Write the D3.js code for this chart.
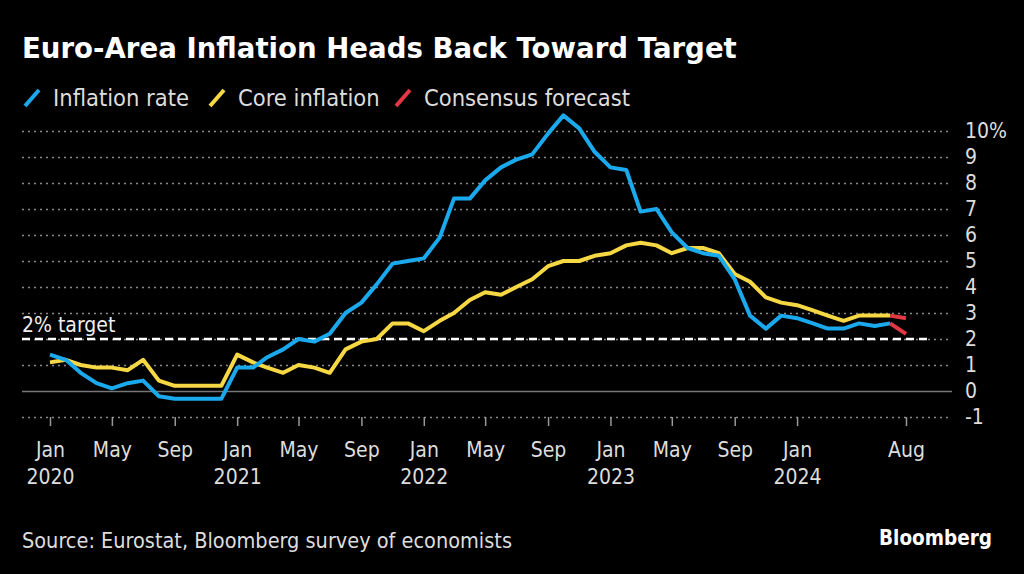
<!DOCTYPE html>
<html><head><meta charset="utf-8">
<script src="https://cdn.jsdelivr.net/npm/d3@7"></script>
<style>
html,body{margin:0;padding:0;background:#000;}
svg{display:block;}
text{font-family:"DejaVu Sans Condensed","DejaVu Sans",sans-serif;}
</style></head>
<body><svg id="c" width="1024" height="574"></svg>
<script>
const months = d3.timeMonths(new Date(2020,0,1), new Date(2024,7,1)); // Jan 2020 - Jul 2024
const inflation = [1.4,1.2,0.7,0.3,0.1,0.3,0.4,-0.2,-0.3,-0.3,-0.3,-0.3,
  0.9,0.9,1.3,1.6,2.0,1.9,2.2,3.0,3.4,4.1,4.9,5.0,
  5.1,5.9,7.4,7.4,8.1,8.6,8.9,9.1,9.9,10.6,10.1,9.2,
  8.6,8.5,6.9,7.0,6.1,5.5,5.3,5.2,4.3,2.9,2.4,2.9,
  2.8,2.6,2.4,2.4,2.6,2.5,2.6];
const core = [1.1,1.2,1.0,0.9,0.9,0.8,1.2,0.4,0.2,0.2,0.2,0.2,
  1.4,1.1,0.9,0.7,1.0,0.9,0.7,1.6,1.9,2.0,2.6,2.6,
  2.3,2.7,3.0,3.5,3.8,3.7,4.0,4.3,4.8,5.0,5.0,5.2,
  5.3,5.6,5.7,5.6,5.3,5.5,5.5,5.3,4.5,4.2,3.6,3.4,
  3.3,3.1,2.9,2.7,2.9,2.9,2.9];
const forecastDates = [new Date(2024,6,1), new Date(2024,7,1)];
const forecastInflation = [2.6, 2.2];
const forecastCore = [2.9, 2.8];
const yTicks = [-1,0,1,2,3,4,5,6,7,8,9,10];
const xTickDates = [new Date(2020,0,1),new Date(2020,4,1),new Date(2020,8,1),
  new Date(2021,0,1),new Date(2021,4,1),new Date(2021,8,1),
  new Date(2022,0,1),new Date(2022,4,1),new Date(2022,8,1),
  new Date(2023,0,1),new Date(2023,4,1),new Date(2023,8,1),
  new Date(2024,0,1),new Date(2024,7,1)];
const target = 2;

const BLUE="#1ba9ee", YELLOW="#f6d844", RED="#e23845";
const FONT="'DejaVu Sans Condensed','DejaVu Sans',sans-serif";
const svg = d3.select("#c");
svg.append("rect").attr("width",1024).attr("height",574).attr("fill","#000");

const x = d3.scaleTime().domain([new Date(2020,0,1), new Date(2024,7,1)]).range([50,906]);
const y = d3.scaleLinear().domain([-1,10]).range([417,131]);

// title
svg.append("text").attr("x",22).attr("y",58).attr("fill","#fff")
  .style("font-size","27.6px").style("font-weight","bold")
  .style("font-family","'DejaVu Sans',sans-serif")
  .text("Euro-Area Inflation Heads Back Toward Target");

// legend
const legend = [{l:"Inflation rate",c:BLUE,x:22},{l:"Core inflation",c:YELLOW,x:207},{l:"Consensus forecast",c:RED,x:393}];
legend.forEach(d=>{
  svg.append("line").attr("x1",d.x+3).attr("y1",106).attr("x2",d.x+17).attr("y2",90)
    .attr("stroke",d.c).attr("stroke-width",4);
  svg.append("text").attr("x",d.x+31).attr("y",106).attr("fill","#ddd")
    .style("font-size","23.5px").text(d.l);
});

// grid / y axis
const gy = svg.append("g").attr("transform","translate(22,0)")
  .call(d3.axisRight(y).tickValues(yTicks).tickSize(930).tickPadding(13)
    .tickFormat(d=> d===10? "10%" : String(d)));
gy.select(".domain").remove();
gy.selectAll(".tick line").attr("stroke","#8a8a8a").attr("stroke-width",1.5)
  .attr("stroke-dasharray",d=> d===0? null : "2,4");
gy.selectAll(".tick").filter(d=>d===0).select("line").attr("stroke","#777").attr("stroke-width",1.5);
gy.selectAll(".tick text").attr("fill","#ddd").style("font-size","21px")
  .style("font-family",FONT);

// target line
svg.append("line").attr("x1",22).attr("x2",930).attr("y1",y(target)).attr("y2",y(target))
  .attr("stroke","#fff").attr("stroke-width",2.5).attr("stroke-dasharray","8,5");
svg.append("text").attr("x",22).attr("y",y(target)-7).attr("fill","#eee")
  .style("font-size","21px").text("2% target");

// x axis
const gx = svg.append("g").attr("transform","translate(0,417)")
  .call(d3.axisBottom(x).tickValues(xTickDates).tickSize(9).tickPadding(16)
    .tickFormat(d3.timeFormat("%b")));
gx.select(".domain").remove();
gx.selectAll(".tick line").attr("stroke","#999").attr("stroke-width",1.5);
gx.selectAll(".tick text").attr("fill","#ddd").style("font-size","21px")
  .style("font-family",FONT);
gx.selectAll(".tick").filter(d=>d.getMonth()===0).append("text")
  .attr("y",67).attr("fill","#ddd").attr("text-anchor","middle")
  .style("font-size","21px").style("font-family",FONT)
  .text(d=>d.getFullYear());

// lines
const line = d3.line().x(d=>x(d[0])).y(d=>y(d[1])).curve(d3.curveLinear);
svg.append("path").datum(months.map((m,i)=>[m,core[i]])).attr("d",line)
  .attr("fill","none").attr("stroke",YELLOW).attr("stroke-width",4).attr("stroke-linejoin","round");
svg.append("path").datum(months.map((m,i)=>[m,inflation[i]])).attr("d",line)
  .attr("fill","none").attr("stroke",BLUE).attr("stroke-width",4).attr("stroke-linejoin","round");
svg.append("path").datum(forecastDates.map((m,i)=>[m,forecastCore[i]])).attr("d",line)
  .attr("fill","none").attr("stroke",RED).attr("stroke-width",4);
svg.append("path").datum(forecastDates.map((m,i)=>[m,forecastInflation[i]])).attr("d",line)
  .attr("fill","none").attr("stroke",RED).attr("stroke-width",4);

// footer
svg.append("text").attr("x",22).attr("y",548).attr("fill","#ddd").style("font-size","21.5px")
  .text("Source: Eurostat, Bloomberg survey of economists");
svg.append("text").attr("x",992).attr("y",545).attr("fill","#fff").attr("text-anchor","end")
  .style("font-size","20.5px").style("font-weight","bold")
  .text("Bloomberg");
</script></body></html>
